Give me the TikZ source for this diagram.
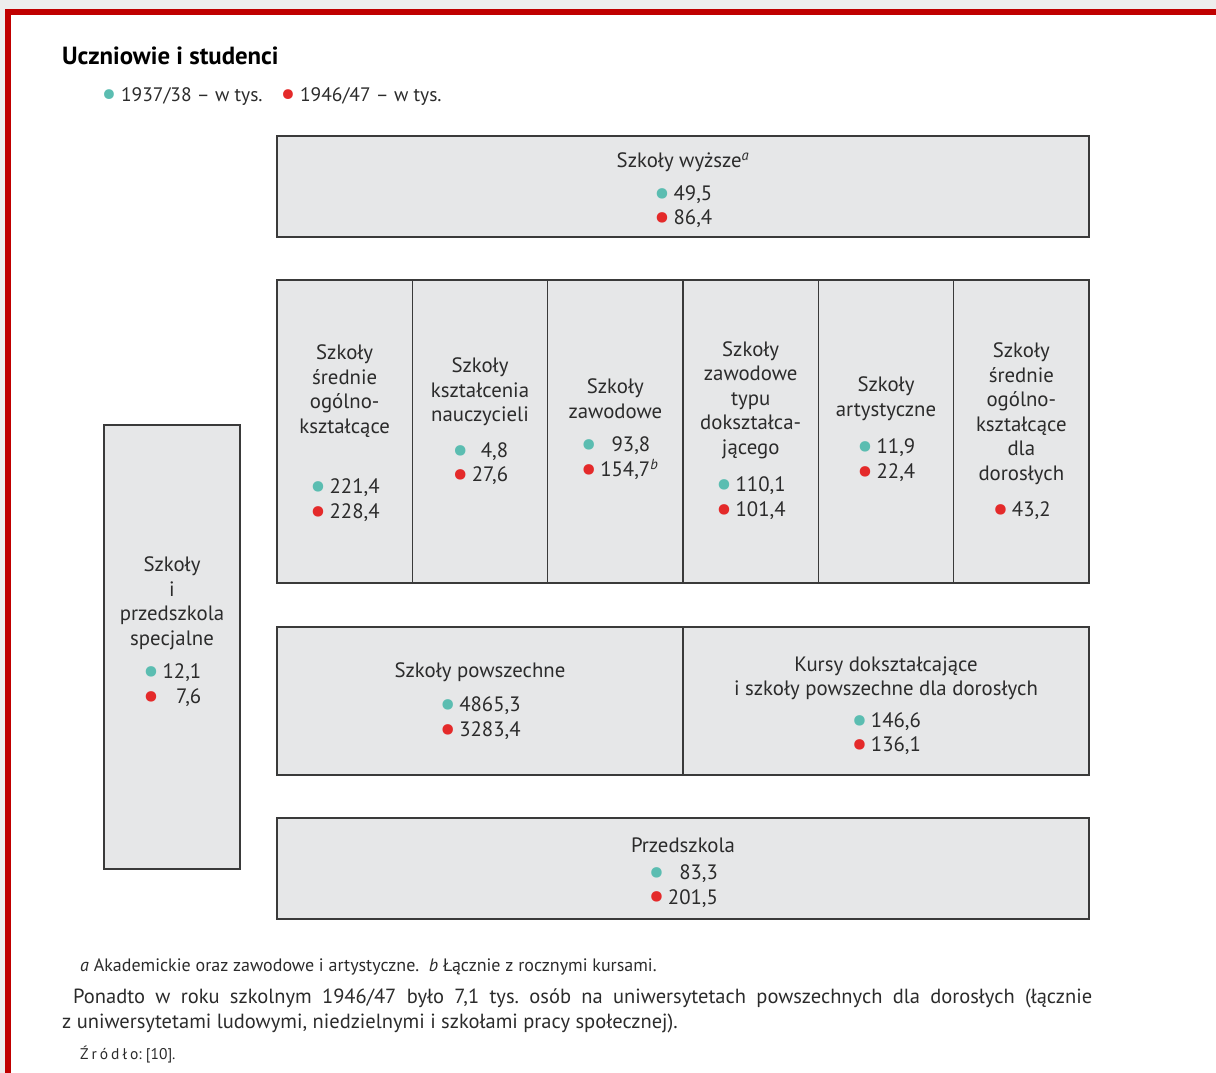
\documentclass[tikz,border=0pt]{standalone}
\usepackage{fontspec}
\setmainfont{PT Sans}
\usepackage{xcolor}
\usepackage{graphicx}
\frenchspacing

\definecolor{boxgray}{HTML}{E6E7E8}
\definecolor{edgegray}{HTML}{3A3A3A}
\definecolor{inkgray}{HTML}{2B2B2B}
\definecolor{dotteal}{HTML}{5BBDB1}
\definecolor{dotred}{HTML}{E42A2A}
\definecolor{framered}{HTML}{C00000}
\definecolor{framegray}{HTML}{EDEDED}

\newcommand{\tdot}{\textcolor{dotteal}{\smash{\raisebox{-4.8pt}{\scalebox{1.8}{\textbullet}}}}}
\newcommand{\rdot}{\textcolor{dotred}{\smash{\raisebox{-4.8pt}{\scalebox{1.8}{\textbullet}}}}}
\newcommand{\vals}[2]{\begin{tabular}[t]{@{}c@{\hspace{3pt}}r@{}}\tdot & #1\\ \rdot & #2\end{tabular}}

\begin{document}
\begin{tikzpicture}[x=1pt, y=-1pt,
  every node/.style={font=\fontsize{20.8}{24.5}\selectfont, text=inkgray},
  box/.style={draw=edgegray, line width=1.5pt, fill=boxgray, inner sep=0pt, outer sep=0pt},
  txt/.style={align=center, inner sep=0pt}]
\useasboundingbox (0,0) rectangle (1216,1073);

% page frame
\fill[framegray] (0,0) rectangle (1216,9);
\fill[framegray] (0,0) rectangle (5,1073);
\fill[framered] (5,9) rectangle (1216,15);
\fill[framered] (5,9) rectangle (11,1073);

% title and legend
\node[anchor=base west, inner sep=0pt, font=\bfseries\fontsize{24.8}{28}\selectfont, text=black] (title) at (62,65) {Uczniowie i studenci};
\node[anchor=base west, inner sep=0pt, font=\fontsize{19.5}{24}\selectfont] (legOld) at (101,101) {\tdot\hspace{4pt}1937/38 – w tys.};
\node[anchor=base west, inner sep=0pt, font=\fontsize{19.5}{24}\selectfont] (legNew) at (280,101) {\rdot\hspace{4pt}1946/47 – w tys.};

% Szkoły wyższe
\node[box, minimum width=812pt, minimum height=101pt] (wyzsze) at (683,186.5) {};
\node[txt] (wyzszeTxt) at ([yshift=-6pt]wyzsze.center)
  {Szkoły wyższe\textsuperscript{\textit{a}}\\[8pt]\vals{49,5}{86,4}};

% secondary schools
\node[box, minimum width=135.33pt, minimum height=303pt] (sredOg) at (344.67,431.5) {};
\node[box, minimum width=135.33pt, minimum height=303pt] (nauczyc) at (480,431.5) {};
\node[box, minimum width=135.33pt, minimum height=303pt] (zawod) at (615.33,431.5) {};
\node[box, minimum width=135.33pt, minimum height=303pt] (dokszt) at (750.67,431.5) {};
\node[box, minimum width=135.33pt, minimum height=303pt] (artyst) at (886,431.5) {};
\node[box, minimum width=135.33pt, minimum height=303pt] (sredDor) at (1021.33,431.5) {};

\node[txt] (sredOgTxt) at ([yshift=-4pt]sredOg.center)
  {Szkoły\\średnie\\ogólno-\\kształcące\\[36pt]\vals{221,4}{228,4}};
\node[txt] (nauczycTxt) at ([yshift=8pt]nauczyc.center)
  {Szkoły\\kształcenia\\nauczycieli\\[11pt]\vals{4,8}{27,6}};
\node[txt] (zawodTxt) at (zawod.center)
  {Szkoły\\zawodowe\\[9pt]\vals{93,8}{154,7\rlap{\textsuperscript{\textit{b}}}}};
\node[txt] (doksztTxt) at ([yshift=-1pt]dokszt.center)
  {Szkoły\\zawodowe\\typu\\dokształca-\\jącego\\[13pt]\vals{110,1}{101,4}};
\node[txt] (artystTxt) at (artyst.center)
  {Szkoły\\artystyczne\\[13pt]\vals{11,9}{22,4}};
\node[txt] (sredDorTxt) at (sredDor.center)
  {Szkoły\\średnie\\ogólno-\\kształcące\\dla\\dorosłych\\[12pt]\rdot\hspace{3pt}43,2};

% primary schools
\node[box, minimum width=406pt, minimum height=148pt] (powsz) at (480,701) {};
\node[box, minimum width=406pt, minimum height=148pt] (kursy) at (886,701) {};
\node[txt] (powszTxt) at ([yshift=-2pt]powsz.center)
  {Szkoły powszechne\\[10pt]\vals{4865,3}{3283,4}};
\node[txt] (kursyTxt) at ([yshift=-7pt]kursy.center)
  {Kursy dokształcające\\i szkoły powszechne dla dorosłych\\[7pt]\vals{146,6}{136,1}};

% Przedszkola
\node[box, minimum width=812pt, minimum height=101pt] (przed) at (683,868.5) {};
\node[txt] (przedTxt) at ([yshift=-6pt]przed.center)
  {Przedszkola\\[3pt]\vals{83,3}{201,5}};

% special schools
\node[box, minimum width=136pt, minimum height=444pt] (spec) at (172,647) {};
\node[txt] (specTxt) at ([yshift=13pt]spec.center)
  {Szkoły\\i\\przedszkola\\specjalne\\[9pt]\vals{12,1}{7,6}};

% notes under the chart
\node[anchor=base west, inner sep=0pt, font=\fontsize{18}{21}\selectfont] (notes) at (80,971)
  {\textit{a} Akademickie oraz zawodowe i artystyczne.\ \ \textit{b} Łącznie z rocznymi kursami.};
\node[anchor=base west, align=left, inner sep=0pt, font=\fontsize{20.5}{25}\selectfont] (para) at (62,1028)
  {\hspace*{11pt}\makebox[1019pt][s]{Ponadto w roku szkolnym 1946/47 było 7,1 tys. osób na uniwersytetach powszechnych dla dorosłych (łącznie}\\
   z uniwersytetami ludowymi, niedzielnymi i szkołami pracy społecznej).};
\node[anchor=base west, inner sep=0pt, font=\fontsize{15.5}{18}\selectfont] (source) at (80,1059)
  {Ź\hspace{3pt}r\hspace{3pt}ó\hspace{3pt}d\hspace{3pt}ł\hspace{3pt}o: [10].};
\end{tikzpicture}
\end{document}
